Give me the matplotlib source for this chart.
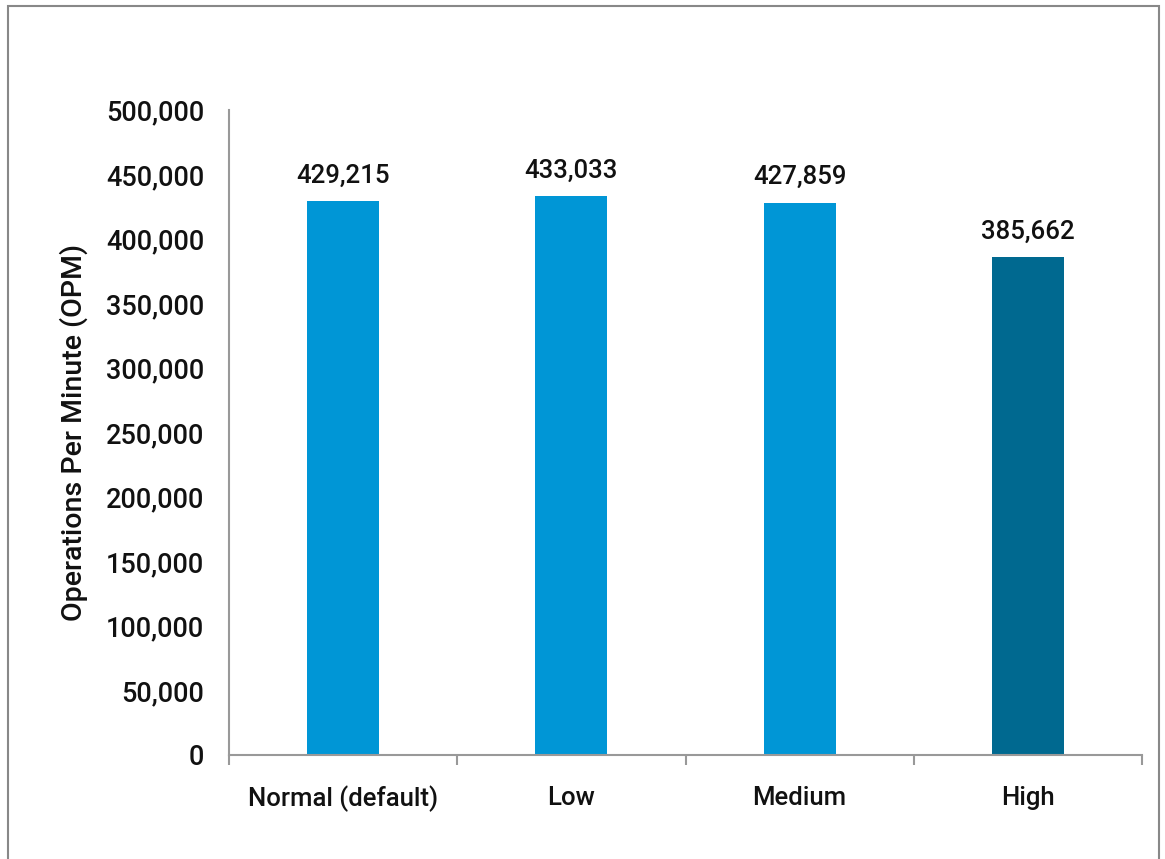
import matplotlib
matplotlib.use("Agg")
import matplotlib.pyplot as plt
from matplotlib.patches import Rectangle
from matplotlib.ticker import FuncFormatter, FixedLocator

categories = ["Normal (default)", "Low", "Medium", "High"]
opm = [429215, 433033, 427859, 385662]
bar_colors = ["#0096D6", "#0096D6", "#0096D6", "#006990"]
y_ticks = [0, 50000, 100000, 150000, 200000, 250000, 300000, 350000, 400000, 450000, 500000]

WEIGHT = "medium"
plt.rcParams["font.family"] = ["Roboto", "DejaVu Sans"]
plt.rcParams["font.weight"] = WEIGHT

fig = plt.figure(figsize=(11.65, 8.59), dpi=100)
ax = fig.add_axes([0.1966, 0.1211, 0.7837, 0.7509])

x = list(range(len(categories)))
ax.bar(x, opm, width=0.316, color=bar_colors, zorder=2)

for xi, v in zip(x, opm):
    ax.annotate(f"{v:,}", (xi, v), xytext=(0, 10), textcoords="offset points",
                ha="center", va="bottom", fontsize=18.5, color="#111111",
                fontweight=WEIGHT)

ax.set_xlim(-0.5, len(categories) - 0.5)
ax.set_ylim(0, 500000)
ax.yaxis.set_major_locator(FixedLocator(y_ticks))
ax.yaxis.set_major_formatter(FuncFormatter(lambda v, p: f"{int(v):,}"))
ax.set_xticks(x)
ax.set_xticklabels(categories)
ax.xaxis.set_minor_locator(FixedLocator([i - 0.5 for i in range(len(categories) + 1)]))

for s in ["top", "right"]:
    ax.spines[s].set_visible(False)
for s in ["left", "bottom"]:
    ax.spines[s].set_color("#999999")
    ax.spines[s].set_linewidth(1.5)

ax.tick_params(axis="y", length=0, pad=18, labelsize=19.5, labelcolor="#111111")
ax.tick_params(axis="x", which="major", length=0, pad=22, labelsize=18.5, labelcolor="#111111")
ax.tick_params(axis="x", which="minor", length=7, width=1.5, color="#999999", direction="out")
for lbl in ax.get_xticklabels() + ax.get_yticklabels():
    lbl.set_fontweight(WEIGHT)

ax.set_ylabel("Operations Per Minute (OPM)", fontsize=20.5, color="#111111",
              fontweight=WEIGHT)
ax.yaxis.set_label_coords(-0.155, 0.5)

fig.patches.append(Rectangle((8 / 1165, -0.05), (1159 - 8) / 1165, 1.05 - 6 / 859,
                             transform=fig.transFigure, fill=False,
                             edgecolor="#888888", linewidth=1.5))

fig.savefig("out.png", dpi=100)
